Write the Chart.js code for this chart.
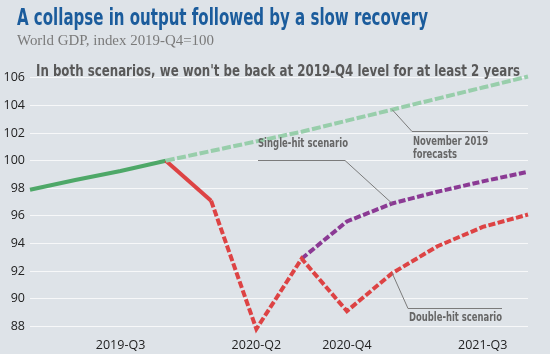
<!DOCTYPE html>
<html>
<head>
<meta charset="utf-8">
<script src="https://cdn.jsdelivr.net/npm/chart.js@4"></script>
<style>
  html, body { margin: 0; padding: 0; background: #dee3e8; }
  #wrap { width: 550px; height: 354px; position: relative; }
</style>
</head>
<body>
<div id="wrap"><canvas id="gdpChart"></canvas></div>
<script>
// World GDP, index 2019-Q4 = 100
const quarters = ['2019-Q1', '2019-Q2', '2019-Q3', '2019-Q4', '2020-Q1', '2020-Q2',
                  '2020-Q3', '2020-Q4', '2021-Q1', '2021-Q2', '2021-Q3', '2021-Q4'];
const shownQuarters = ['2019-Q3', '2020-Q2', '2020-Q4', '2021-Q3'];
const yTicks = [88, 90, 92, 94, 96, 98, 100, 102, 104, 106];

const actual     = [97.9, 98.6, 99.25, 100, null, null, null, null, null, null, null, null];
const nov2019    = [null, null, null, 100, 100.7, 101.4, 102.1, 102.9, 103.7, 104.5, 105.3, 106.1];
const doubleHit  = [null, null, null, 100, 97.1, 87.8, 92.9, 89.1, 91.85, 93.8, 95.2, 96.1];
const singleHit  = [null, null, null, null, null, null, 92.9, 95.6, 96.9, 97.75, 98.5, 99.2];

const narrow = '"Liberation Sans Narrow", "DejaVu Sans Condensed", sans-serif';

// draw text squeezed to a given width (condensed look)
function fitText(ctx, text, x, y, w, font, color) {
    ctx.save();
    ctx.font = font;
    ctx.fillStyle = color;
    ctx.textBaseline = 'alphabetic';
    ctx.textAlign = 'left';
    const m = ctx.measureText(text).width;
    ctx.translate(x, y);
    ctx.scale(w / m, 1);
    ctx.fillText(text, 0, 0);
    ctx.restore();
}

function leader(ctx, pts) {
    ctx.save();
    ctx.strokeStyle = '#7b7b7b';
    ctx.lineWidth = 1;
    ctx.beginPath();
    ctx.moveTo(pts[0][0], pts[0][1]);
    for (let i = 1; i < pts.length; i++) ctx.lineTo(pts[i][0], pts[i][1]);
    ctx.stroke();
    ctx.restore();
}

const notes = {
    id: 'notes',
    afterDraw(chart) {
        const ctx = chart.ctx;
        const x = chart.scales.x, y = chart.scales.y;

        fitText(ctx, 'A collapse in output followed by a slow recovery', 17, 25, 411,
            'bold 23px ' + narrow, '#1b5c9c');
        fitText(ctx, 'World GDP, index 2019-Q4=100', 17, 45, 197,
            '14px "Liberation Serif", "DejaVu Serif", serif', '#7a7a7a');
        fitText(ctx, "In both scenarios, we won't be back at 2019-Q4 level for at least 2 years", 36, 76, 484,
            'bold 16px ' + narrow, '#595959');

        const lab = 'bold 12.5px ' + narrow;
        const col = '#666666';
        const i = 8; // 2021-Q1

        // single-hit
        const sx = x.getPixelForValue(i), sy = y.getPixelForValue(singleHit[i]);
        leader(ctx, [[258, 160.5], [345, 160.5], [sx, sy]]);
        fitText(ctx, 'Single-hit scenario', 258, 147, 90, lab, col);

        // november forecasts
        const nx = x.getPixelForValue(i), ny = y.getPixelForValue(nov2019[i]);
        leader(ctx, [[nx, ny], [412, 131.5], [488, 131.5]]);
        fitText(ctx, 'November 2019', 413, 145, 75, lab, col);
        fitText(ctx, 'forecasts', 413, 158, 44, lab, col);

        // double-hit
        const dx = x.getPixelForValue(i), dy = y.getPixelForValue(doubleHit[i]);
        leader(ctx, [[dx, dy], [408, 308.5], [502, 308.5]]);
        fitText(ctx, 'Double-hit scenario', 409, 321, 93, lab, col);
    }
};

const ctx = document.getElementById('gdpChart');
const gdpChart = new Chart(ctx, {
    type: 'line',
    data: {
        labels: quarters,
        datasets: [{
            label: 'November 2019 forecasts',
            data: nov2019,
            borderColor: 'rgb(152, 206, 171)',
            borderWidth: 4,
            borderDash: [9, 2.5],
            pointRadius: 0,
            clip: false
        }, {
            label: 'Double-hit scenario',
            data: doubleHit,
            borderColor: 'rgb(221, 67, 68)',
            borderWidth: 4,
            pointRadius: 0,
            clip: false,
            segment: {
                borderDash: c => c.p0DataIndex >= 4 ? [7, 2.5] : undefined
            }
        }, {
            label: 'Single-hit scenario',
            data: singleHit,
            borderColor: 'rgb(139, 58, 148)',
            borderWidth: 4,
            borderDash: [7, 2.5],
            pointRadius: 0,
            clip: false
        }, {
            label: 'Actual',
            data: actual,
            borderColor: 'rgb(78, 168, 104)',
            borderWidth: 4,
            pointRadius: 0,
            clip: false
        }]
    },
    options: {
        responsive: true,
        maintainAspectRatio: false,
        animation: false,
        layout: { padding: { top: 75, right: 22, bottom: 0, left: 3 } },
        plugins: {
            legend: { display: false },
            tooltip: { enabled: false }
        },
        scales: {
            x: {
                offset: false,
                grid: { display: false, drawTicks: false },
                border: { display: false },
                afterFit: s => { s.height = 19; },
                ticks: {
                    autoSkip: false,
                    maxRotation: 0,
                    padding: 3,
                    color: '#222',
                    font: { family: '"Open Sans", sans-serif', size: 12.5 },
                    callback: (v, idx) => shownQuarters.includes(quarters[idx]) ? quarters[idx] : ''
                }
            },
            y: {
                min: 87.37,
                max: 106.21,
                afterBuildTicks: s => { s.ticks = yTicks.map(v => ({ value: v })); },
                afterFit: s => { s.width = 27; },
                grid: { color: 'rgba(255, 255, 255, 0.75)', drawTicks: false },
                border: { display: false },
                ticks: {
                    padding: 5,
                    color: '#222',
                    font: { family: '"Open Sans", sans-serif', size: 12.5 }
                }
            }
        }
    },
    plugins: [notes]
});
</script>
</body>
</html>
